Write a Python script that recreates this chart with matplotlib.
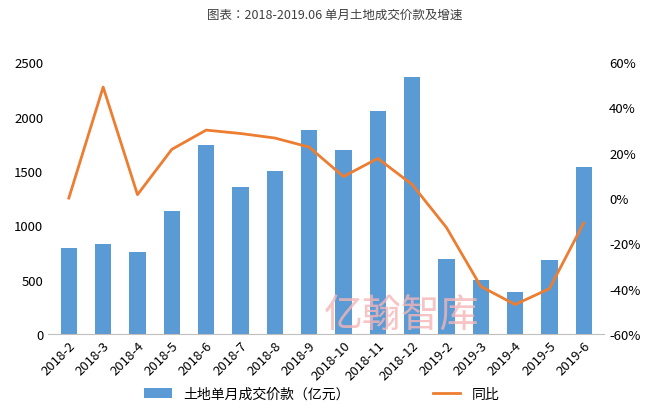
import matplotlib.pyplot as plt
from matplotlib import font_manager
from matplotlib.ticker import FuncFormatter

cjk = [f.name for f in font_manager.fontManager.ttflist if 'CJK' in f.name]
plt.rcParams['font.family'] = (cjk[:1] or ['DejaVu Sans']) + ['DejaVu Sans']

months = ['2018-2', '2018-3', '2018-4', '2018-5', '2018-6', '2018-7', '2018-8', '2018-9',
          '2018-10', '2018-11', '2018-12', '2019-2', '2019-3', '2019-4', '2019-5', '2019-6']
amount = [790, 830, 750, 1130, 1740, 1350, 1500, 1880, 1690, 2050, 2360, 690, 500, 390, 680, 1540]
growth = [0, 49, 1.5, 21.5, 30, 28.5, 26.5, 22.5, 9.5, 17.5, 6, -13, -39, -47, -40, -11]

fig = plt.figure(figsize=(6.7, 4.1), dpi=100)
ax = fig.add_axes([0.072, 0.183, 0.83, 0.663])
x = range(len(months))
b = ax.bar(x, amount, width=0.48, color='#5b9bd5', label='土地单月成交价款（亿元）')
ax.set_ylim(0, 2500)
ax.set_yticks(range(0, 2501, 500))
ax.set_xlim(-0.6, len(months) - 0.4)
ax.set_xticks(list(x))
ax.set_xticklabels(months, rotation=45, ha='right', rotation_mode='anchor')
ax.tick_params(length=0, labelsize=9.5)
for s in ['top', 'right', 'left']:
    ax.spines[s].set_visible(False)
ax.spines['bottom'].set_color('#bfbfbf')

ax2 = ax.twinx()
l, = ax2.plot(x, growth, color='#ed7d31', lw=2, label='同比')
ax2.set_ylim(-60, 60)
ax2.set_yticks(range(-60, 61, 20))
ax2.yaxis.set_major_formatter(FuncFormatter(lambda v, p: f'{v:.0f}%'))
ax2.tick_params(length=0, labelsize=9.5)
for s in ax2.spines.values():
    s.set_visible(False)

fig.text(0.5, 0.955, '图表：2018-2019.06 单月土地成交价款及增速', ha='center', fontsize=9, color='#404040')
fig.text(0.6, 0.2, '亿翰智库', ha='center', fontsize=28, color='#f4b6b6', alpha=0.8, zorder=10)
fig.legend([b, l], ['土地单月成交价款（亿元）', '同比'], loc='lower center', ncol=2,
           bbox_to_anchor=(0.48, -0.01), frameon=False, fontsize=10, columnspacing=6)
fig.savefig('out.png')
